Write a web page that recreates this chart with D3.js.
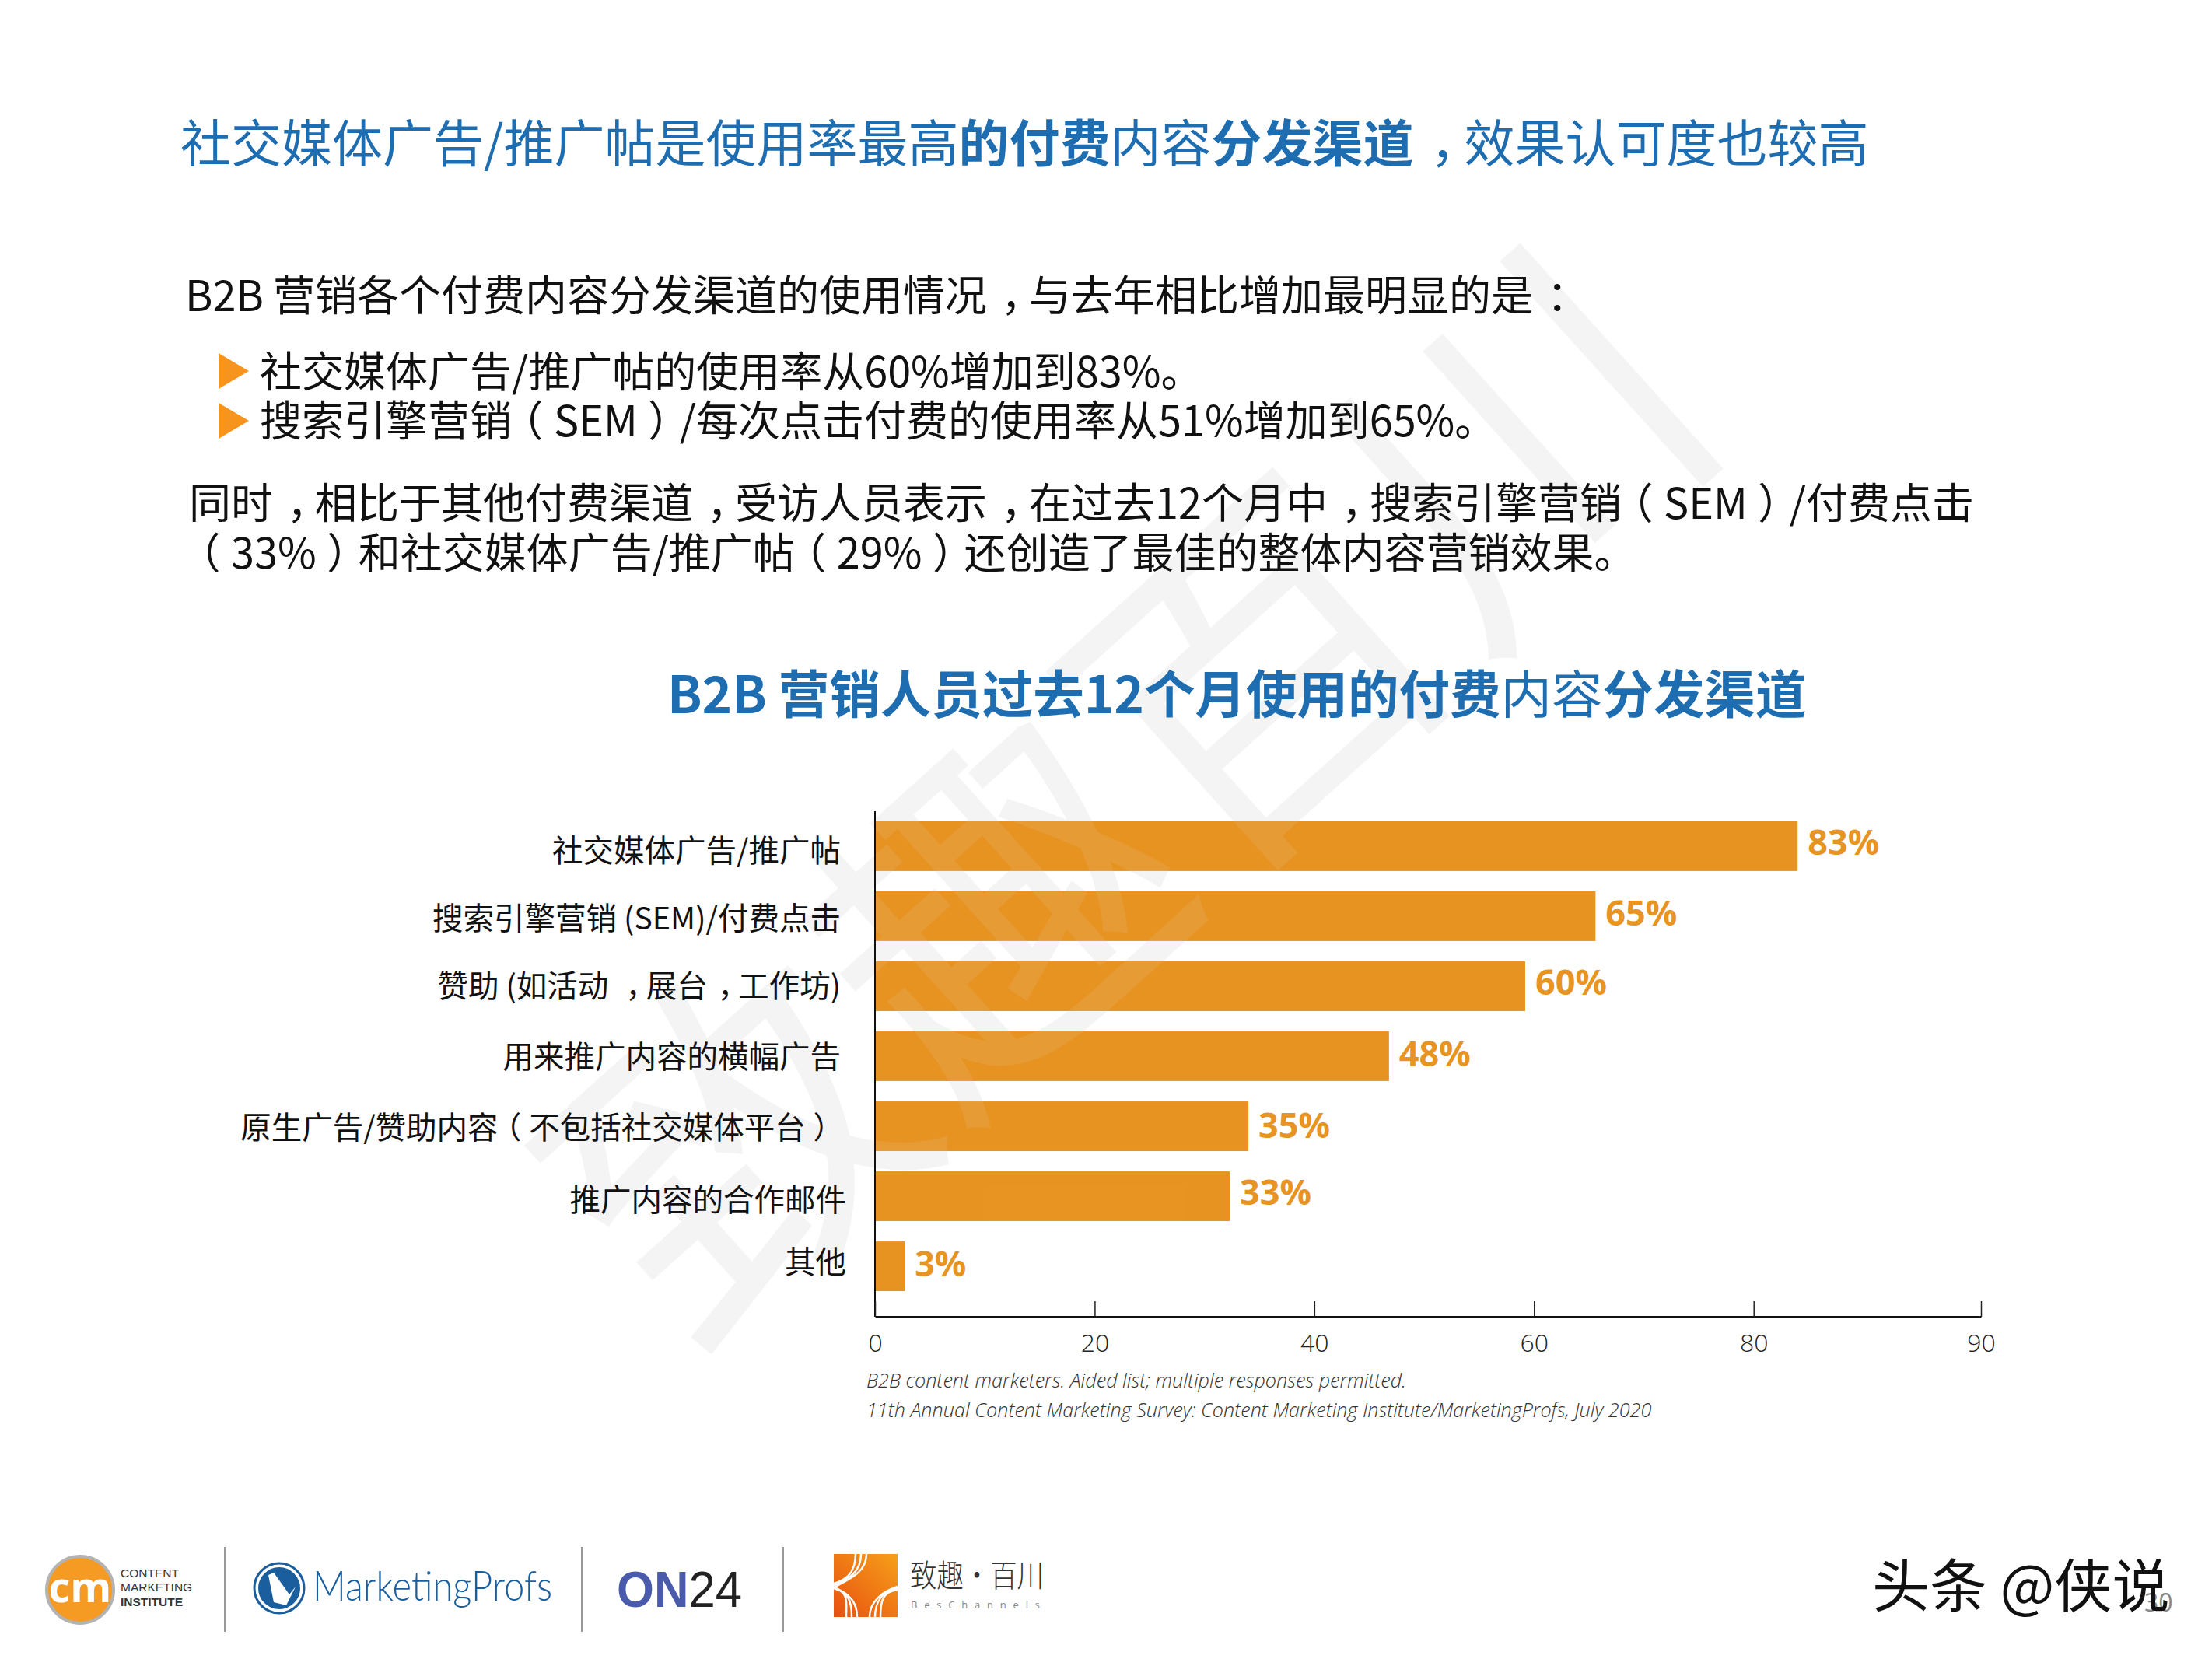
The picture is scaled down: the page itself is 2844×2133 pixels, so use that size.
<!DOCTYPE html>
<html>
<head>
<meta charset="utf-8">
<script src="https://cdn.jsdelivr.net/npm/d3@7"></script>
<style>
  html, body { margin: 0; padding: 0; background: #fff; }
  svg { display: block; }
  text { font-family: "Noto Sans CJK SC", "Open Sans", sans-serif; }
</style>
</head>
<body>
<div id="chart-area"></div>
<script>
// chart values, fullwidth punctuation written as escapes
var categories = ["社交媒体广告/推广帖", "搜索引擎营销 (SEM)/付费点击", "赞助 (如活动 \uFF0C展台\uFF0C工作坊)", "用来推广内容的横幅广告",
  "原生广告/赞助内容\uFF08不包括社交媒体平台\uFF09", "推广内容的合作邮件", "其他"];
// printed on the bars
var barLabels = ["83%", "65%", "60%", "48%", "35%", "33%", "3%"];
// bar lengths as drawn, read against the axis (they do not quite follow the labels)
var barValues = [84, 65.6, 59.2, 46.8, 34, 32.3, 2.7];
// the last tick says 90 but sits where 100 would be
var tickValues = [0, 20, 40, 60, 80, 100.7];
var tickLabels = ["0", "20", "40", "60", "80", "90"];

var titleRuns = [["社交媒体广告/推广帖是使用率最高", 400], ["的付费", 700], ["内容", 400], ["分发渠道", 700], ["\uFF0C效果认可度也较高", 400]];
var chartTitleRuns = [["B2B 营销人员过去12个月使用的付费", 700], ["内容", 400], ["分发渠道", 700]];
var introLine = "B2B 营销各个付费内容分发渠道的使用情况\uFF0C与去年相比增加最明显的是\uFF1A";
var bulletLines = ["社交媒体广告/推广帖的使用率从60%增加到83%。", "搜索引擎营销\uFF08SEM\uFF09/每次点击付费的使用率从51%增加到65%。"];
var bodyLines = ["同时\uFF0C相比于其他付费渠道\uFF0C受访人员表示\uFF0C在过去12个月中\uFF0C搜索引擎营销\uFF08SEM\uFF09/付费点击",
  "\uFF0833%\uFF09和社交媒体广告/推广帖\uFF0829%\uFF09还创造了最佳的整体内容营销效果。"];
var notes = ["B2B content marketers. Aided list; multiple responses permitted.",
  "11th Annual Content Marketing Survey: Content Marketing Institute/MarketingProfs, July 2020"];

var W = 2844, H = 2133;
var blue = "#1f6db1", orange = "#e79422", bulletOrange = "#f7941d";

var svg = d3.select("#chart-area").append("svg").attr("width", W).attr("height", H);

// slide has the fullwidth punctuation centred in its cell, so nudge it and undo on the next run
var punctShift = { "\uFF0C": 0.33, "\uFF1A": 0.33, "\uFF08": -0.25, "\uFF09": 0.25 };
function runs(sel, list) {
  var back = 0;
  list.forEach(function (r) {
    r[0].split(/([\uFF0C\uFF1A\uFF08\uFF09])/).forEach(function (s) {
      if (!s) return;
      var shift = punctShift[s] || 0;
      sel.append("tspan").attr("font-weight", r[1]).attr("dx", (shift - back) + "em").text(s);
      back = shift;
    });
  });
}

// big faint watermark, lies over everything in the slide but the text stays dark
function drawMark(g, op) {
  g.append("text")
    .attr("text-anchor", "middle").attr("dy", "0.36em")
    .attr("font-size", 450).attr("font-weight", 400)
    .attr("fill", "#ddd").attr("opacity", op)
    .text("致趣百川");
}
drawMark(svg.append("g").attr("transform", "translate(1451,1025) rotate(-42)"), 0.3);

// header text
var title = svg.append("text").attr("x", 232).attr("y", 208).attr("font-size", 65).attr("fill", blue);
runs(title, titleRuns);

var intro = svg.append("text").attr("x", 238).attr("y", 400).attr("font-size", 54).attr("fill", "#111");
runs(intro, [[introLine, 400]]);

bulletLines.forEach(function (t, i) {
  var cy = [477, 541][i];
  svg.append("path").attr("d", "M281," + (cy - 23) + "L320," + cy + "L281," + (cy + 23) + "Z").attr("fill", bulletOrange);
  var l = svg.append("text").attr("x", 334).attr("y", [498, 561][i]).attr("font-size", 54).attr("fill", "#111");
  runs(l, [[t, 400]]);
});

bodyLines.forEach(function (t, i) {
  var l = svg.append("text").attr("x", 243).attr("y", [667, 731][i]).attr("font-size", 54).attr("fill", "#111");
  runs(l, [[t, 400]]);
});

var chartTitle = svg.append("text").attr("x", 858).attr("y", 917).attr("font-size", 65.5).attr("fill", blue);
runs(chartTitle, chartTitleRuns);

// scales
var x = d3.scaleLinear().domain([0, 100.7]).range([1125, 2547]);
var y = d3.scaleBand().domain(categories).range([1056, 1660]).paddingInner(0.29).paddingOuter(0);

// bars
svg.selectAll("rect.bar").data(categories).enter().append("rect")
  .attr("class", "bar")
  .attr("x", x(0))
  .attr("y", function (d) { return y(d); })
  .attr("width", function (d, i) { return x(barValues[i]) - x(0); })
  .attr("height", y.bandwidth())
  .attr("fill", orange);

// watermark shows through the bars too, clip it to them
var clip = svg.append("defs").append("clipPath").attr("id", "barClip");
clip.selectAll("rect").data(categories).enter().append("rect")
  .attr("x", x(0))
  .attr("y", function (d) { return y(d); })
  .attr("width", function (d, i) { return x(barValues[i]) - x(0); })
  .attr("height", y.bandwidth());
drawMark(svg.append("g").attr("clip-path", "url(#barClip)")
  .append("g").attr("transform", "translate(1451,1025) rotate(-42)"), 0.1);

// value labels
var labelDy = [-5, -4, -5, -3, -1, -5, -3];
svg.selectAll("text.val").data(categories).enter().append("text")
  .attr("class", "val")
  .attr("x", function (d, i) { return x(barValues[i]) + 13; })
  .attr("y", function (d, i) { return y(d) + y.bandwidth() / 2 + labelDy[i]; })
  .attr("dy", "0.36em")
  .attr("font-size", 45)
  .attr("font-weight", 700)
  .attr("fill", orange)
  .style("font-family", '"Open Sans"')
  .text(function (d, i) { return barLabels[i]; });

// category labels on a left axis
var catDx = [0, 0, 0, 0, 4, 7, 7];
var catDy = [6, 3, 0, 1, 2, 5, -5];
var yAxis = svg.append("g").attr("transform", "translate(" + x(0) + ",0)")
  .call(d3.axisLeft(y).tickSize(0).tickSizeOuter(0));
yAxis.select(".domain").remove();
yAxis.selectAll("text")
  .attr("x", function (d, i) { return -44 + catDx[i]; })
  .attr("dy", function (d, i) { return catDy[i] + 14; })
  .attr("font-size", 39.5)
  .attr("fill", "#111")
  .style("font-family", '"Noto Sans CJK SC"')
  .each(function (d) {
    var t = d3.select(this);
    t.text(null);
    runs(t, [[d, 400]]);
  });
svg.append("line").attr("x1", x(0)).attr("x2", x(0)).attr("y1", 1043).attr("y2", 1693).attr("stroke", "#111").attr("stroke-width", 2);

// bottom axis, ticks point up
var xAxis = svg.append("g").attr("transform", "translate(0,1693)")
  .call(d3.axisBottom(x).tickValues(tickValues).tickSizeInner(-20).tickSizeOuter(0)
    .tickFormat(function (d, i) { return tickLabels[i]; }));
xAxis.select(".domain").attr("stroke", "#111").attr("stroke-width", 3);
xAxis.selectAll(".tick line").attr("stroke", "#222").attr("stroke-width", 1.5);
xAxis.selectAll("text")
  .attr("y", 22)
  .attr("dy", "0.71em")
  .attr("font-size", 32)
  .attr("font-weight", 300)
  .attr("fill", "#222")
  .style("font-family", '"Open Sans"');

// notes
notes.forEach(function (t, i) {
  svg.append("text").attr("x", 1114).attr("y", [1784, 1822][i]).attr("font-size", 25.2)
    .attr("font-style", "italic").attr("font-weight", 300).attr("fill", "#333")
    .style("font-family", '"Open Sans"').text(t);
});

// footer separators
[289, 748, 1007].forEach(function (sx) {
  svg.append("line").attr("x1", sx).attr("x2", sx).attr("y1", 1989).attr("y2", 2098).attr("stroke", "#777").attr("stroke-width", 1.5);
});

// CMI logo
var cmi = svg.append("g");
cmi.append("circle").attr("cx", 103).attr("cy", 2044).attr("r", 43).attr("fill", "#f59a23").attr("stroke", "#b3b3b3").attr("stroke-width", 4);
cmi.append("text").attr("x", 103).attr("y", 2060).attr("text-anchor", "middle").attr("font-size", 54).attr("font-weight", 700)
  .attr("fill", "#fff").style("font-family", '"Open Sans"').text("cm");
["CONTENT", "MARKETING", "INSTITUTE"].forEach(function (t, i) {
  svg.append("text").attr("x", 155).attr("y", [2028, 2046, 2065][i]).attr("font-size", 15.5).attr("font-weight", i == 2 ? 700 : 400)
    .attr("fill", "#333").style("font-family", '"Liberation Sans"').text(t);
});

// MarketingProfs logo
svg.append("circle").attr("cx", 359).attr("cy", 2042).attr("r", 28).attr("fill", "#1a5e9e").attr("stroke", "#fff").attr("stroke-width", 2);
svg.append("circle").attr("cx", 359).attr("cy", 2042).attr("r", 32).attr("fill", "none").attr("stroke", "#1a5e9e").attr("stroke-width", 3);
svg.append("path").attr("d", "M345,2025L352,2022L372,2050L380,2040L368,2064L352,2060Z").attr("fill", "#fff");
svg.append("text").attr("x", 402).attr("y", 2058).attr("font-size", 54).attr("font-weight", 300)
  .attr("textLength", 308).attr("lengthAdjust", "spacingAndGlyphs")
  .attr("fill", "#1a5e9e").style("font-family", "Lato").text("MarketingProfs");

// ON24 logo
var on24 = svg.append("text").attr("x", 793).attr("y", 2066).attr("font-size", 64).attr("textLength", 161).attr("lengthAdjust", "spacingAndGlyphs")
  .style("font-family", '"Liberation Sans"');
on24.append("tspan").attr("fill", "#4a5bab").attr("font-weight", 700).text("ON");
on24.append("tspan").attr("fill", "#222").text("24");

// BesChannels logo
var grad = svg.append("defs").append("linearGradient").attr("id", "besGrad")
  .attr("x1", 1).attr("y1", 0).attr("x2", 0).attr("y2", 1);
grad.append("stop").attr("offset", 0).attr("stop-color", "#f6a01a");
grad.append("stop").attr("offset", 1).attr("stop-color", "#e8500f");
svg.append("rect").attr("x", 1072).attr("y", 1998).attr("width", 82).attr("height", 81).attr("fill", "url(#besGrad)");
[0, 7, 14].forEach(function (o) {
  svg.append("path").attr("fill", "none").attr("stroke", "#fff").attr("stroke-width", 2.5)
    .attr("d", "M" + (1100 + o) + ",1998C" + (1100 + o) + ",2025 1085,2032 1072," + (2036 + o * 0.4));
  svg.append("path").attr("fill", "none").attr("stroke", "#fff").attr("stroke-width", 2.5)
    .attr("d", "M1072," + (2042 - o * 0.1) + "C1092,2048 " + (1102 - o) + ",2060 " + (1102 - o) + ",2079");
  svg.append("path").attr("fill", "none").attr("stroke", "#fff").attr("stroke-width", 2.5)
    .attr("d", "M1154," + (2040 + o * 0.3) + "C1134,2046 " + (1118 + o) + ",2060 " + (1118 + o) + ",2079");
});
svg.append("text").attr("x", 1170).attr("y", 2040).attr("font-size", 40).attr("font-weight", 300)
  .attr("textLength", 172).attr("lengthAdjust", "spacingAndGlyphs").attr("fill", "#333").text("致趣·百川");
svg.append("text").attr("x", 1171).attr("y", 2068).attr("font-size", 13).attr("letter-spacing", 8.8).attr("fill", "#888")
  .style("font-family", '"Open Sans"').text("BesChannels");

// page number and the toutiao stamp on top of it
svg.append("text").attr("x", 2757).attr("y", 2072).attr("font-size", 32).attr("fill", "#888").style("font-family", '"Open Sans"').text("30");
svg.append("text").attr("x", 2407).attr("y", 2066).attr("font-size", 74).attr("font-weight", 400).attr("fill", "#111").text("头条 @侠说");
</script>
</body>
</html>
